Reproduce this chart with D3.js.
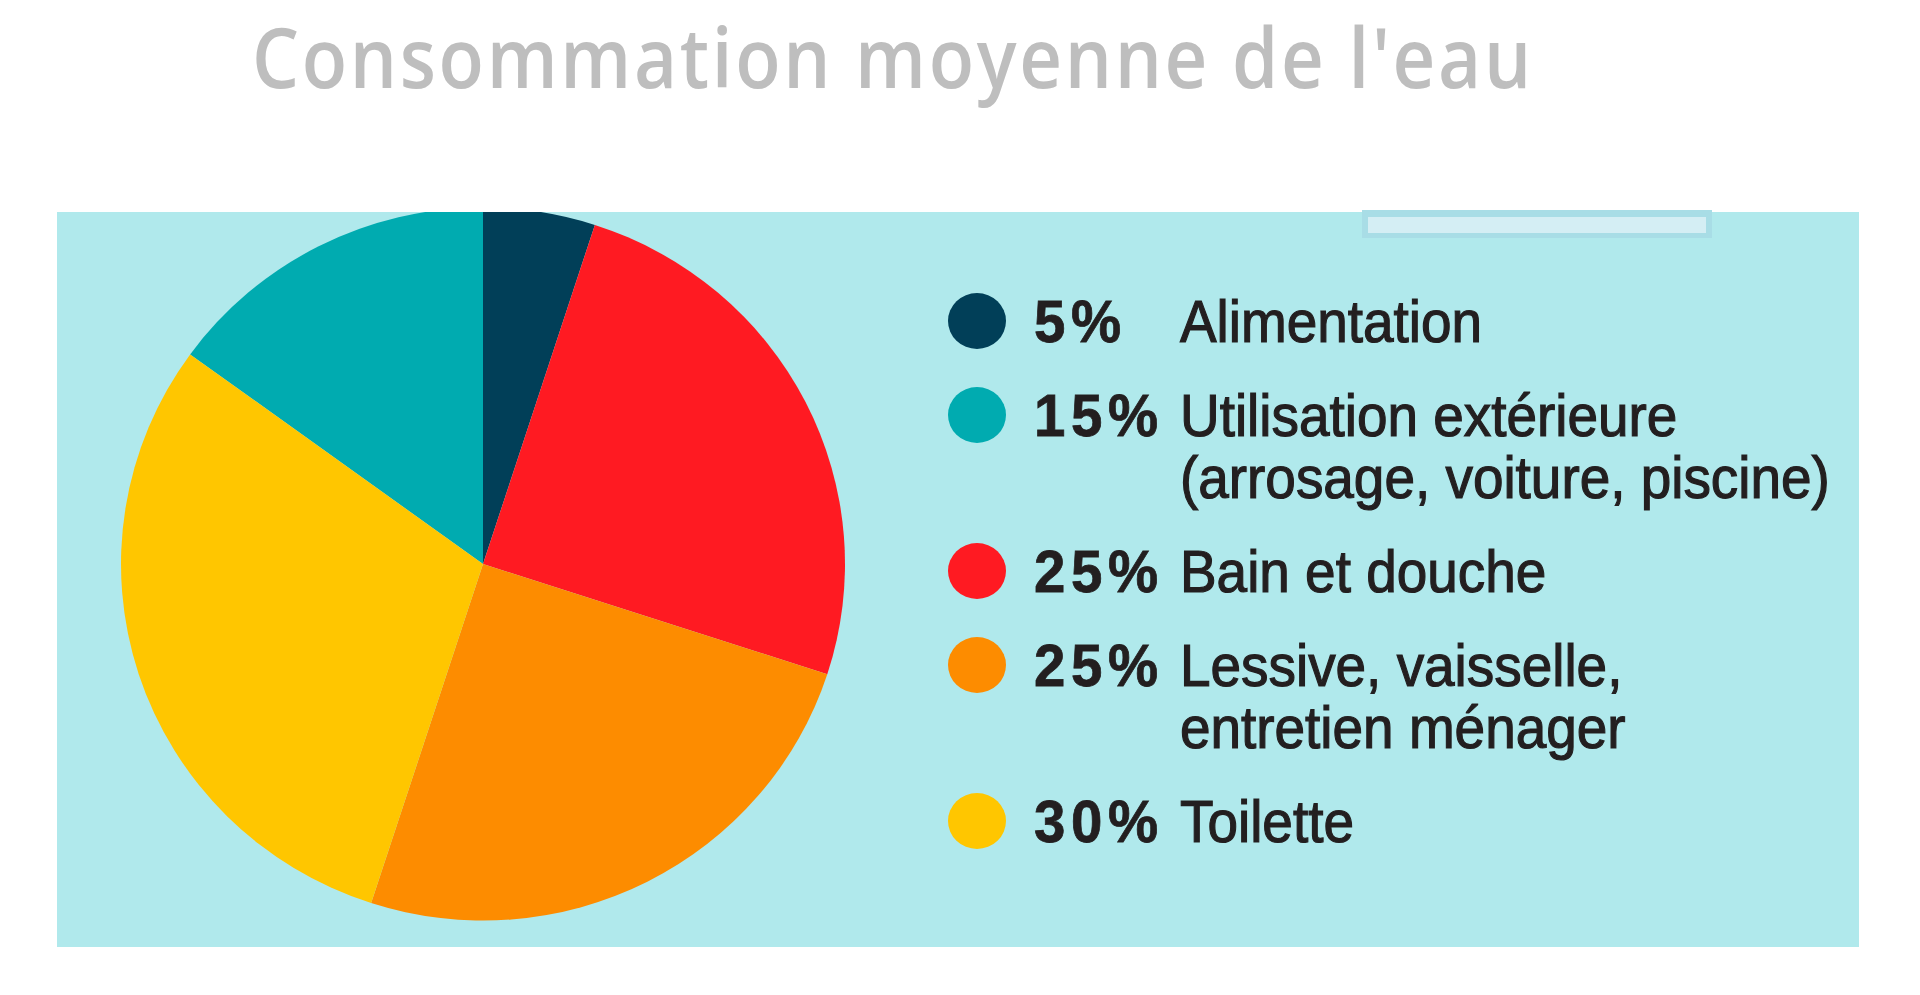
<!DOCTYPE html>
<html>
<head>
<meta charset="utf-8">
<script src="https://cdn.jsdelivr.net/npm/d3@7"></script>
<style>
  body { margin: 0; background: #ffffff; }
  svg { display: block; }
</style>
</head>
<body>
<div id="chart"></div>
<script>
// data, legend order
const categories = ["Alimentation", "Utilisation extérieure", "Bain et douche", "Lessive", "Toilette"];
const labelLines = [
    ["Alimentation"],
    ["Utilisation extérieure", "(arrosage, voiture, piscine)"],
    ["Bain et douche"],
    ["Lessive, vaisselle,", "entretien ménager"],
    ["Toilette"]
];
const values = [5, 15, 25, 25, 30];
const colors = ["#013f58", "#00abb0", "#ff1a22", "#fd8c00", "#ffc600"];
// clockwise order of the slices from 12 o'clock
const pieOrder = [0, 2, 3, 4, 1];

const width = 1920, height = 995;
const panel = {x: 57, y: 212, w: 1802, h: 735};

const svg = d3.select("#chart").append("svg")
    .attr("width", width)
    .attr("height", height);

// title, squeezed a bit so it spans the same width as the original
const titleWidth = 1282, titleSpacing = 3;
const title = svg.append("text")
    .attr("font-family", "'Open Sans', sans-serif")
    .attr("font-weight", 600)
    .attr("font-size", 84)
    .attr("letter-spacing", titleSpacing)
    .attr("fill", "#bebebe")
    .text("Consommation moyenne de l'eau");
const natural = title.node().getComputedTextLength();
title.attr("transform", "translate(252,88) scale(" + (titleWidth / natural) + ",1)");

// panel
svg.append("rect")
    .attr("x", panel.x).attr("y", panel.y)
    .attr("width", panel.w).attr("height", panel.h)
    .attr("fill", "#b0e9ec");

// little strip at the top of the panel
svg.append("rect")
    .attr("x", 1362).attr("y", 210)
    .attr("width", 350).attr("height", 28)
    .attr("fill", "#a8dde6");
svg.append("rect")
    .attr("x", 1368).attr("y", 217)
    .attr("width", 338).attr("height", 16)
    .attr("fill", "#d4eef4");

svg.append("defs").append("clipPath")
    .attr("id", "panelClip")
  .append("rect")
    .attr("x", panel.x).attr("y", panel.y)
    .attr("width", panel.w).attr("height", panel.h);

// pie
const data = categories.map((c, i) => ({
    name: c, value: values[i], color: colors[i], order: pieOrder.indexOf(i)
}));

const pie = d3.pie()
    .value(d => d.value)
    .sort((a, b) => a.order - b.order);

const radius = 362;
const arc = d3.arc().innerRadius(0).outerRadius(radius);

svg.append("g")
    .attr("clip-path", "url(#panelClip)")
  .append("g")
    .attr("transform", "translate(483,564) scale(1,0.985)")
    .selectAll("path")
    .data(pie(data))
    .enter()
  .append("path")
    .attr("d", arc)
    .attr("fill", d => d.data.color);

// legend
const rowGap = 94, lineGap = 62;
let extra = 0;
const rowY = labelLines.map((lines, i) => {
    const y = 321 + i * rowGap + extra * lineGap;
    extra += lines.length - 1;
    return y;
});

const legend = svg.append("g")
    .selectAll(".row")
    .data(data)
    .enter()
  .append("g")
    .attr("class", "row")
    .attr("transform", (d, i) => "translate(0," + rowY[i] + ")");

legend.append("ellipse")
    .attr("cx", 977)
    .attr("cy", 0)
    .attr("rx", 29)
    .attr("ry", 28)
    .attr("fill", d => d.color);

legend.append("text")
    .attr("transform", "translate(1034,21) scale(0.94,1)")
    .attr("font-family", "'Liberation Sans', Arial, sans-serif")
    .attr("font-weight", "bold")
    .attr("font-size", 60)
    .attr("letter-spacing", 6)
    .attr("fill", "#231f20")
    .attr("stroke", "#231f20")
    .attr("stroke-width", 0.8)
    .text(d => d.value + "%");

legend.each(function(d, i) {
    const g = d3.select(this);
    labelLines[i].forEach((line, j) => {
        g.append("text")
            .attr("transform", "translate(1180," + (21 + j * lineGap) + ") scale(0.915,1)")
            .attr("font-family", "'Liberation Sans', Arial, sans-serif")
            .attr("font-size", 60)
            .attr("fill", "#231f20")
            .attr("stroke", "#231f20")
            .attr("stroke-width", 1.2)
            .text(line);
    });
});
</script>
</body>
</html>
